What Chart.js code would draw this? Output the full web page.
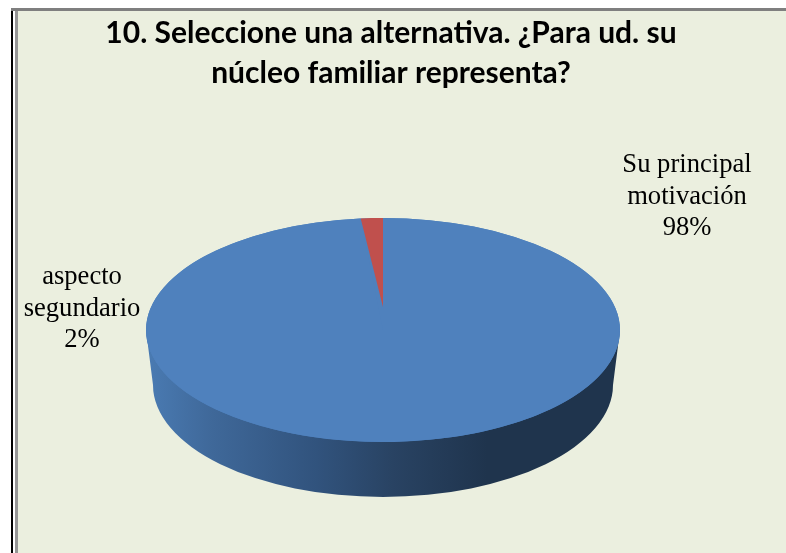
<!DOCTYPE html>
<html>
<head>
<meta charset="utf-8">
<script src="https://cdn.jsdelivr.net/npm/chart.js@4/dist/chart.umd.min.js"></script>
<style>
html,body{margin:0;padding:0;background:#fff;width:786px;height:553px;overflow:hidden}
#black{position:absolute;left:11px;top:8px;width:2px;height:545px;background:#000}
#top{position:absolute;left:11px;top:8px;width:775px;height:3px;background:#7f7f7f}
#gray{position:absolute;left:15px;top:11px;width:3px;height:542px;background:#969696}
#fill{position:absolute;left:18px;top:11px;width:768px;height:542px;background:#EBEFDF}
canvas{position:absolute;left:0;top:0}
</style>
</head>
<body>
<div id="black"></div><div id="top"></div><div id="gray"></div><div id="fill"></div>
<canvas id="c" width="782" height="553"></canvas>
<script>
const titleLines = ["10. Seleccione una alternativa. ¿Para ud. su", "núcleo familiar representa?"];
const categories = ["Su principal motivación", "aspecto segundario"];
const values = [98.5, 1.5];
const percentLabels = ["98%", "2%"];
const labelLines = [["Su principal", "motivación", "98%"], ["aspecto", "segundario", "2%"]];
const sliceColors = ["#4F81BD", "#C0504D"];

const CX = 383, CY = 330, RX = 237, RY = 112;
const APEX_Y = 307, APEX_RY = 89;
const BASE_CY = 385, BASE_RX = 230, BASE_RY = 112;
const labelPos = [{x: 687, y: 164}, {x: 82, y: 276}];

const pie3d = {
  id: 'pie3d',
  beforeDatasetsDraw(chart) {
    const ctx = chart.ctx;
    const meta = chart.getDatasetMeta(0);
    meta.data.forEach((el, i) => {
      if (el._wrapped) return;
      el._wrapped = true;
      const draw = el.draw.bind(el);
      const k = i === 0 ? RY / RX : APEX_RY / RX;
      const cy = i === 0 ? CY : APEX_Y;
      el.draw = c => {
        c.save();
        c.setTransform(1, 0, 0, k, CX - el.x, cy - el.y * k);
        draw(c);
        c.restore();
      };
    });
    ctx.save();
    const g = ctx.createLinearGradient(146, 0, 620, 0);
    g.addColorStop(0, '#4A7BB3');
    g.addColorStop(0.14, '#3F6899');
    g.addColorStop(0.36, '#31537D');
    g.addColorStop(0.52, '#294363');
    g.addColorStop(0.72, '#1F344D');
    g.addColorStop(1, '#1F344D');
    ctx.fillStyle = g;
    ctx.beginPath();
    ctx.moveTo(CX - RX, CY);
    ctx.lineTo(CX - BASE_RX, BASE_CY);
    ctx.ellipse(CX, BASE_CY, BASE_RX, BASE_RY, 0, Math.PI, 0, true);
    ctx.lineTo(CX + RX, CY);
    ctx.closePath();
    ctx.fill();
    ctx.fillStyle = sliceColors[0];
    ctx.beginPath();
    ctx.ellipse(CX, CY, RX, RY, 0, 0, Math.PI * 2);
    ctx.fill();
    ctx.restore();
  },
  afterDraw(chart) {
    const ctx = chart.ctx;
    ctx.save();
    ctx.font = '26.6px "Liberation Serif"';
    ctx.fillStyle = '#000';
    ctx.textAlign = 'center';
    ctx.textBaseline = 'alphabetic';
    labelLines.forEach((lines, i) => {
      lines.forEach((t, j) => ctx.fillText(t, labelPos[i].x, labelPos[i].y + j * 31.5 + 8));
    });
    ctx.restore();
  }
};

new Chart(document.getElementById('c'), {
  type: 'pie',
  data: {
    labels: categories,
    datasets: [{
      data: values,
      backgroundColor: sliceColors,
      borderWidth: 0,
      radius: RX,
      clip: false
    }]
  },
  options: {
    responsive: false,
    animation: false,
    events: [],
    plugins: {
      legend: {display: false},
      tooltip: {enabled: false},
      title: {
        display: true,
        text: titleLines,
        color: '#000',
        font: {family: 'Lato', size: 30, weight: 'bold', lineHeight: 1.333},
        padding: {top: 13, bottom: 0}
      }
    }
  },
  plugins: [pie3d]
});
</script>
</body>
</html>
